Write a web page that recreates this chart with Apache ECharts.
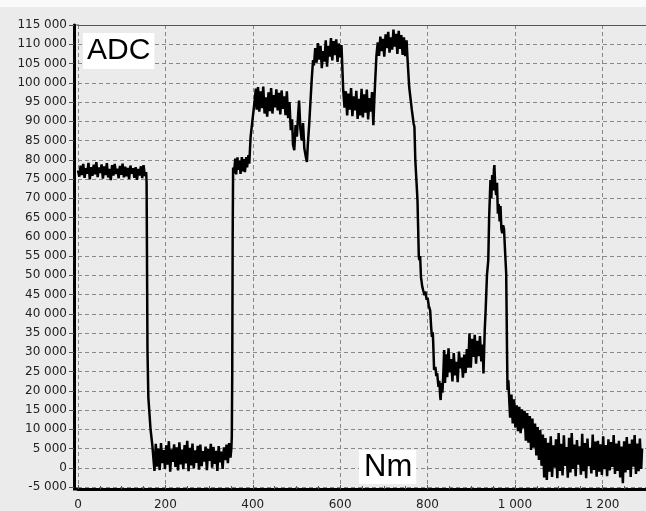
<!DOCTYPE html>
<html>
<head>
<meta charset="utf-8">
<script src="https://cdn.jsdelivr.net/npm/echarts@6/dist/echarts.min.js"></script>
<style>
html,body{margin:0;padding:0;background:#fff;}
#c{width:646px;height:511px;}
</style>
</head>
<body>
<div id="c"></div>
<script>
// Each segment: [Nm, ADC] readings taken from the trace
const plateau1 = [[0,77200],[3,75600],[6,78500],[9,76000],[12,78900],[15,75300],[18,77800],[21,76400],[24,79200],[27,74900],[30,78100],[33,75800],[36,78700],[39,76200],[42,79400],[45,75500],[48,78000],[51,76600],[54,78800],[57,75100],[60,78300],[63,76000],[66,79100],[69,75400],[72,77600],[75,74700],[78,78600],[81,75900],[84,78900],[87,76300],[90,77700],[93,75200],[96,78400],[99,76100],[102,79000],[105,75400],[108,78200],[111,75700],[114,77900],[117,75000],[120,78500],[123,76400],[126,77800],[129,75300],[132,78100],[135,74800],[138,77600],[141,75900],[144,78300],[147,75200],[150,78600],[153,75800],[156,76800]];
const drop1 = [[157,74000],[158,52000],[159,30500],[161,18300],[163,15000],[166,10000],[170,6000]];
const low1 = [[172,5600],[175,-800],[178,6200],[181,300],[184,5000],[187,-600],[190,6400],[193,1200],[196,4600],[199,-300],[202,5800],[205,800],[208,6900],[211,-1000],[214,4800],[217,1500],[220,6100],[223,200],[226,5300],[229,-700],[232,6600],[235,900],[238,4700],[241,-400],[244,5900],[247,1100],[250,7000],[253,-900],[256,5200],[259,600],[262,6300],[265,-200],[268,4500],[271,1300],[274,5700],[277,-500],[280,6000],[283,400],[286,4300],[289,1600],[292,5500],[295,-600],[298,4900],[301,1800],[304,6200],[307,0],[310,5400],[313,1000],[316,4400],[319,-800],[322,5600],[325,1400],[328,4200],[331,-300],[334,5300],[337,2000],[340,6000],[343,1200],[346,6400],[349,2600]];
const rise1 = [[351,5000],[352,8000],[353,24000],[354,60000],[355,78000]];
const plateau2 = [[357,76500],[360,80300],[362,76200],[365,80600],[367,77400],[370,79800],[372,76300],[375,80700],[377,77000],[380,80200],[382,76800],[385,80700],[387,78000],[390,81200],[392,79000],[395,85900],[400,91000],[404,95000],[407,98500]];
const plateau3 = [[409,93000],[412,98900],[415,92500],[418,97800],[421,93400],[424,99000],[427,92000],[430,96200],[433,91200],[436,97500],[439,92600],[442,98600],[445,92000],[448,96800],[451,93600],[454,98300],[457,92800],[460,97400],[463,91800],[466,98000],[469,93200],[472,96500],[475,91600],[478,97800],[481,90800],[484,95000],[487,87700],[490,90500],[492,84000],[495,82500],[498,89000],[501,86000],[504,92000],[506,95400],[509,88000],[512,85000],[515,89500],[518,83000],[521,81000],[524,79400],[526,84000],[529,89000],[532,95000],[535,101000],[538,105900]];
const peak1 = [[540,104500],[543,109000],[546,105200],[549,110300],[552,106000],[555,109600],[558,103800],[561,108200],[564,105500],[567,111000],[570,104200],[573,109600],[576,106800],[579,111600],[582,105800],[585,110800],[588,107200],[591,111300],[594,105400],[597,110200],[600,106600],[603,109800],[605,104000],[607,98000],[610,93500],[613,97800]];
const plateau4 = [[616,91500],[619,97200],[622,93000],[625,98600],[628,91300],[631,96500],[634,92800],[637,97900],[640,90600],[643,95800],[646,91500],[649,98400],[652,91000],[655,97000],[658,92200],[661,98200],[664,90500],[667,96000],[670,92500],[673,97600],[676,89000],[678,95000],[680,100000],[683,107000]];
const peak2 = [[686,110500],[689,107000],[692,112000],[695,108200],[698,111400],[701,106800],[704,112600],[707,109000],[710,113200],[713,107800],[716,111800],[719,108600],[722,113800],[725,109400],[728,112700],[731,107500],[734,113500],[737,108800],[740,112400],[743,107200],[746,111800],[749,106900],[752,111000],[754,106600]];
const fall = [[758,98900],[764,93000],[768,89500],[770,88500],[772,80000],[777,69500],[780,55000],[781,53900],[783,55000],[785,49500],[788,47000],[790,46100],[793,44800],[795,45800],[798,43600],[800,44200],[803,42000],[806,40900],[808,37000],[810,34000],[812,35200],[813,32400],[815,25400],[818,26200],[820,23800],[822,24600],[825,21000],[827,22600],[829,18500],[830,17600],[832,22000],[834,19500],[836,24000],[838,30600],[840,22000]];
const valley = [[842,29500],[845,23500],[848,31000],[851,24800],[854,28200],[857,22400],[860,29800],[863,24000],[866,27500],[869,22200],[872,30200],[875,25800],[878,28600],[881,23400],[884,29400],[887,24600],[890,30800],[893,26000],[896,34900],[899,26000],[902,33500],[905,28800],[908,34500],[911,27000],[914,33000],[917,29000],[920,34200],[923,27600],[926,32000],[928,24500]];
const spike = [[931,36000],[933,40900],[936,50000],[939,53900],[941,65100],[944,74700],[946,70000],[948,76000],[950,72000],[952,77500],[953,78600],[955,73000],[957,70800],[959,74000],[961,66000],[963,68500],[965,64000],[967,68000],[969,62000],[971,60900],[973,63000],[975,62000],[978,55000],[980,50500],[982,30000],[983,20200],[985,22700],[987,17600]];
const tail = [[989,13000],[992,19000],[995,11500],[998,17800],[1001,10500],[1004,16200],[1007,9500],[1010,15800],[1013,9000],[1016,15200],[1019,10200],[1022,14800],[1025,7000],[1028,14200],[1031,6500],[1034,13400],[1037,4600],[1040,12800],[1043,5200],[1046,11500],[1049,3200],[1052,10600],[1055,2000],[1058,9800],[1061,500],[1064,8600],[1067,-2500],[1070,7700],[1073,-3200],[1076,6500],[1079,-1000],[1082,8200],[1085,-2400],[1088,5800],[1091,0],[1094,7400],[1097,-2700],[1100,9000],[1103,-800],[1106,6200],[1109,-2000],[1112,8400],[1115,500],[1118,5400],[1121,-2600],[1124,7800],[1127,-1200],[1130,9000],[1133,-300],[1136,6000],[1139,-2200],[1142,7200],[1145,800],[1148,5600],[1151,-1800],[1154,8800],[1157,-900],[1160,6400],[1163,-2700],[1166,7600],[1169,400],[1172,5200],[1175,-1500],[1178,8600],[1181,-600],[1184,6800],[1187,-2300],[1190,7000],[1193,-1000],[1196,6100],[1199,-1900],[1202,8200],[1205,-400],[1208,5900],[1211,-2200],[1214,7400],[1217,-700],[1220,6700],[1223,200],[1226,8500],[1229,-1600],[1232,6300],[1235,-800],[1238,7000],[1241,-2500],[1244,5500],[1247,-4000],[1250,6900],[1253,-1200],[1256,8000],[1259,-600],[1262,6200],[1265,-2400],[1268,7300],[1271,300],[1274,8500],[1277,-1600],[1280,6300],[1283,-900],[1286,7600],[1289,-300],[1291,5000]];
const yLabelText = 'ADC';
const xLabelText = 'Nm';

const data = [].concat(plateau1, drop1, low1, rise1, plateau2, plateau3, peak1, plateau4, peak2, fall, valley, spike, tail);
const fmt = v => {
  const s = Math.abs(v).toString().replace(/\B(?=(\d{3})+(?!\d))/g, ' ');
  return (v < 0 ? '-' : '') + s;
};
const titleFont = 'Liberation Sans, Arial, sans-serif';
const tickFont = 'DejaVu Sans, Verdana, sans-serif';
const chart = echarts.init(document.getElementById('c'), null, {renderer: 'canvas'});
chart.setOption({
  animation: false,
  backgroundColor: '#ebebeb',
  grid: {left: 78, right: 0, top: 25, bottom: 24, show: true, backgroundColor: '#ebebeb', borderWidth: 0},
  title: [
    {text: yLabelText, left: 83, top: 33, padding: [3, 4, 3, 4], backgroundColor: '#fff',
     textStyle: {fontSize: 30, fontWeight: 'normal', color: '#000', fontFamily: titleFont}},
    {text: xLabelText, left: 359, top: 450, padding: [2, 4, 1, 5], backgroundColor: '#fff',
     textStyle: {fontSize: 31, fontWeight: 'normal', color: '#000', fontFamily: titleFont}}
  ],
  xAxis: [{
    type: 'value', min: 0, max: 1300, interval: 200, offset: 2,
    axisLine: {show: true, onZero: false, lineStyle: {color: '#000', width: 3}},
    axisTick: {show: true, inside: true, length: 4, lineStyle: {color: '#555'}},
    minorTick: {show: true, splitNumber: 4, length: 3, lineStyle: {color: '#555'}},
    axisLabel: {color: '#222', fontSize: 12, fontFamily: tickFont, margin: 10, formatter: v => fmt(v), showMaxLabel: false},
    splitLine: {show: true, lineStyle: {color: '#888', type: [4, 3], width: 1}}
  }, {
    type: 'value', position: 'top', min: 0, max: 1300,
    axisLine: {show: true, onZero: false, lineStyle: {color: '#555', width: 1}},
    axisTick: {show: false}, axisLabel: {show: false}, splitLine: {show: false}
  }],
  yAxis: {
    type: 'value', min: -5000, max: 115000, interval: 5000, offset: 4,
    axisLine: {show: true, onZero: false, lineStyle: {color: '#000', width: 3}},
    axisTick: {show: true, inside: false, length: 5, lineStyle: {color: '#555'}},
    axisLabel: {color: '#222', fontSize: 12, fontFamily: tickFont, margin: 7, formatter: v => fmt(v)},
    splitLine: {show: true, lineStyle: {color: '#888', type: [4, 3], width: 1}}
  },
  graphic: [
    {type: 'rect', left: 0, top: 0, shape: {width: 646, height: 7}, style: {fill: '#fafafa'}, silent: true},
    {type: 'rect', left: 73, top: 487.5, shape: {width: 6, height: 3}, style: {fill: '#000'}, silent: true},
    {type: 'rect', left: 73, top: 24.5, shape: {width: 6, height: 1}, style: {fill: '#555'}, silent: true}
  ],
  series: [{
    type: 'line', data: data, symbol: 'none', showSymbol: false,
    lineStyle: {color: '#000', width: 2.5}, z: 3
  }]
});
</script>
</body>
</html>
